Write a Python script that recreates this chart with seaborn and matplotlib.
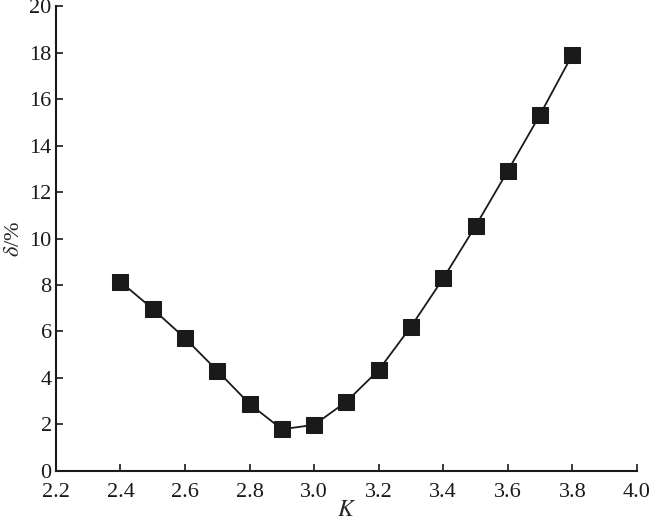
import numpy as np
import pandas as pd
import matplotlib
matplotlib.use("Agg")
import matplotlib.pyplot as plt
import seaborn as sns

# 데이터
k_values = [2.4, 2.5, 2.6, 2.7, 2.8, 2.9, 3.0, 3.1, 3.2, 3.3, 3.4, 3.5, 3.6, 3.7, 3.8]
delta_pct = [8.14, 6.97, 5.71, 4.31, 2.88, 1.79, 1.98, 2.98, 4.34, 6.21, 8.29, 10.54, 12.92, 15.34, 17.92]

x_ticks = [2.2, 2.4, 2.6, 2.8, 3.0, 3.2, 3.4, 3.6, 3.8, 4.0]
y_ticks = [0, 2, 4, 6, 8, 10, 12, 14, 16, 18, 20]

sns.set_style("ticks")
plt.rcParams['font.family'] = ['Liberation Serif', 'DejaVu Serif']
plt.rcParams['mathtext.fontset'] = 'stix'

df = pd.DataFrame({"K": k_values, "delta": delta_pct})

fig = plt.figure(figsize=(6.5, 5.22), dpi=100)
ax = fig.add_axes([0.086, 0.098, 0.894, 0.89])

sns.lineplot(data=df, x="K", y="delta", ax=ax, color="#1a1a1a", linewidth=1.3,
             marker="s", markersize=12, markeredgecolor="#1a1a1a",
             markerfacecolor="#1a1a1a")

ax.set_xlim(2.2, 4.0)
ax.set_ylim(0, 20)
ax.set_xticks(x_ticks)
ax.set_yticks(y_ticks)
ax.set_xticklabels([f"{v:.1f}" for v in x_ticks])
ax.tick_params(direction="in", length=5, width=1.2, labelsize=16, colors="#1a1a1a")
ax.tick_params(axis="x", pad=9)
ax.tick_params(axis="y", pad=3)
for s in ["left", "bottom"]:
    ax.spines[s].set_linewidth(1.5)
    ax.spines[s].set_color("#1a1a1a")
sns.despine(ax=ax)

ax.set_xlabel("$K$", fontsize=17, labelpad=-2)
ax.set_ylabel(r"$\delta$/%", fontsize=16, labelpad=4)

fig.savefig("out.png", dpi=100)
